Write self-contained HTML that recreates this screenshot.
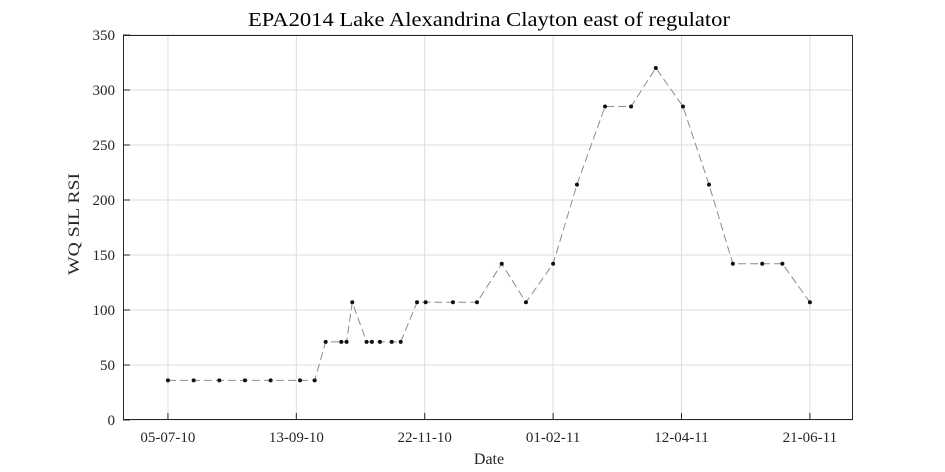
<!DOCTYPE html>
<html><head><meta charset="utf-8"><style>
html,body{margin:0;padding:0;background:#fff;}
svg{display:block;font-family:"Liberation Serif",serif;}
</style></head><body>
<svg id="chart" width="945" height="472"></svg>
<script>
const dayOffsets=[0,14,28,42,56,72,80,86,94.5,97.4,100.5,108.3,111.2,115.6,122,126.9,135.8,140.5,155.4,168.5,182,195.2,210,223,238.3,252.5,266,280.8,295,308,324,335,350];
const values=[36,36,36,36,36,36,36,71,71,71,107,71,71,71,71,71,107,107,107,107,142,107,142,214,285,285,320,285,214,142,142,142,107];
const xTickDays=[0,70,140,210,280,350];
const xTickLabels=['05-07-10','13-09-10','22-11-10','01-02-11','12-04-11','21-06-11'];
const yTicks=[0,50,100,150,200,250,300,350];

const L=123,R=853,T=35,B=420;
const xMin=-24.5,xMax=373.5,yMin=0,yMax=350;
const sx=d=>L+(d-xMin)/(xMax-xMin)*(R-L);
const sy=v=>B-(v-yMin)/(yMax-yMin)*(B-T);
const svg=document.getElementById('chart');
const NS='http://www.w3.org/2000/svg';
function mk(tag,attrs,parent){const e=document.createElementNS(NS,tag);for(const k in attrs)e.setAttribute(k,attrs[k]);(parent||svg).appendChild(e);return e;}

const bg=mk('rect',{x:L,y:T,width:R-L,height:B-T,fill:'#fff'});



const grid=mk('g',{});


xTickDays.forEach(d=>{mk('line',{x1:sx(d),x2:sx(d),y1:T,y2:B,stroke:'#dcdcdc','stroke-width':1},grid);});
yTicks.forEach(v=>{mk('line',{x1:L,x2:R,y1:sy(v),y2:sy(v),stroke:'#dcdcdc','stroke-width':1},grid);});

const frame=mk('rect',{x:L+0.5,y:T+0.5,width:R-L-1,height:B-T-1,fill:'none',stroke:'#262626','stroke-width':1});



const xt=mk('g',{'font-size':15,fill:'#262626','text-anchor':'middle'});


xTickDays.forEach((d,i)=>{
  mk('line',{x1:sx(d),x2:sx(d),y1:B,y2:B-7,stroke:'#262626'},xt);
  const t=mk('text',{x:sx(d),y:B+22},xt);t.textContent=xTickLabels[i];
});
const yt=mk('g',{'font-size':15,fill:'#262626','text-anchor':'end'});


yTicks.forEach(v=>{
  mk('line',{x1:L,x2:L+7,y1:sy(v),y2:sy(v),stroke:'#262626'},yt);
  const t=mk('text',{x:L-8,y:sy(v)+5},yt);t.textContent=v;
});

const title=mk('text',{x:489,y:26,'font-size':20,'text-anchor':'middle',fill:'#000',textLength:482,lengthAdjust:'spacingAndGlyphs'});
title.textContent='EPA2014 Lake Alexandrina Clayton east of regulator';


const xl=mk('text',{x:489,y:464,'font-size':16,'text-anchor':'middle',fill:'#262626'});
xl.textContent='Date';


const yl=mk('text',{x:0,y:0,'font-size':16,'text-anchor':'middle',fill:'#262626',textLength:102,lengthAdjust:'spacingAndGlyphs',transform:'translate(79,224) rotate(-90)'});
yl.textContent='WQ SIL RSI';



const pts=dayOffsets.map((d,i)=>sx(d)+','+sy(values[i])).join(' ');
const line=mk('polyline',{points:pts,fill:'none',stroke:'#8c8c8c','stroke-width':1,'stroke-dasharray':'8,4'});


const mg=mk('g',{});


dayOffsets.forEach((d,i)=>{
  const c=mk('circle',{cx:sx(d),cy:sy(values[i]),r:2,fill:'#111'},mg);
  
  
});
</script>
</body></html>
